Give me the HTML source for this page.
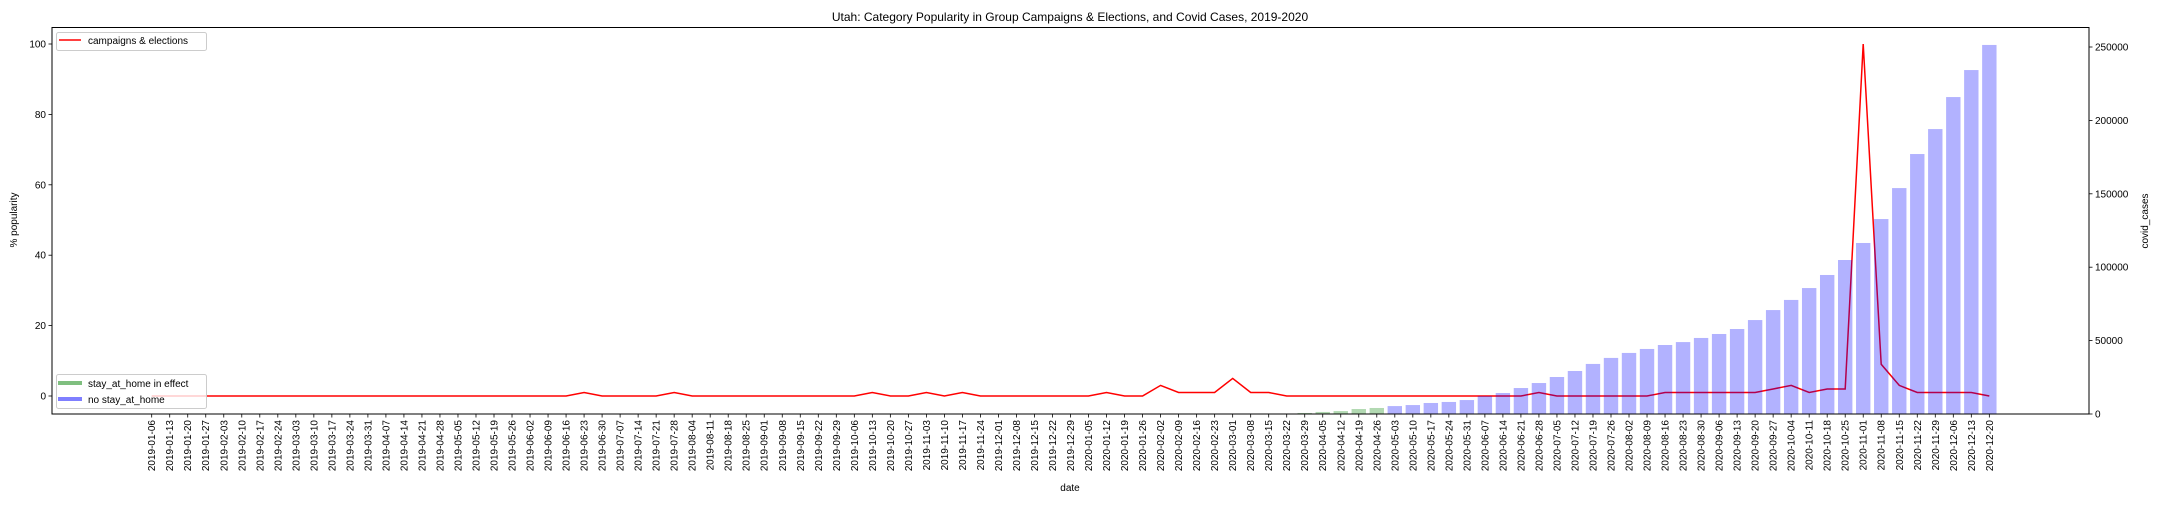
<!DOCTYPE html>
<html><head><meta charset="utf-8"><style>
body{margin:0;background:#fff}
svg text{font-family:"Liberation Sans","DejaVu Sans",sans-serif;fill:#000}
</style></head><body>
<svg id="chart" width="2160" height="504" xmlns="http://www.w3.org/2000/svg"></svg>
<script>
const startDate = "2019-01-06";
const nWeeks = 103;
const popularity = [0,0,0,0,0,0,0,0,0,0,0,0,0,0,0,0,0,0,0,0,0,0,0,0,1,0,0,0,0,1,0,0,0,0,0,0,0,0,0,0,1,0,0,1,0,1,0,0,0,0,0,0,0,1,0,0,3,1,1,1,5,1,1,0,0,0,0,0,0,0,0,0,0,0,0,0,0,1,0,0,0,0,0,0,1,1,1,1,1,1,2,3,1,2,2,100,9,3,1,1,1,1,0];
const casesStartIndex = 64;
const covidCases = [700,1400,2000,3400,4100,5400,6100,7500,8200,9500,12300,14300,17700,21100,25200,29300,34100,38200,41600,44300,47000,49000,51800,54500,57900,64000,70800,77700,85800,94700,104900,116500,132800,153900,177100,194100,215900,234300,251400];
const stayAtHome = [1,1,1,1,1,0,0,0,0,0,0,0,0,0,0,0,0,0,0,0,0,0,0,0,0,0,0,0,0,0,0,0,0,0,0,0,0,0,0];
const leftTicks = [0,20,40,60,80,100];
const rightTicks = [0,50000,100000,150000,200000,250000];

const NS="http://www.w3.org/2000/svg";
const svg=document.getElementById('chart');
function mk(tag,attrs,parent){const e=document.createElementNS(NS,tag);for(const k in attrs)e.setAttribute(k,attrs[k]);(parent||svg).appendChild(e);return e;}
const L=52,R=2089,T=27.5,B=414;
const xPos=i=>151.7+i*18.016;
const yL=v=>396-v*3.52;
const yR=v=>B-v*367/250000;
function dateLabel(i){const d=new Date(startDate+"T00:00:00Z");d.setUTCDate(d.getUTCDate()+7*i);return d.toISOString().slice(0,10);}

// title
let t=mk('text',{x:1070,y:21,'text-anchor':'middle','font-size':12});
t.textContent="Utah: Category Popularity in Group Campaigns & Elections, and Covid Cases, 2019-2020";



// line
const pts=popularity.map((v,i)=>xPos(i).toFixed(1)+","+yL(v).toFixed(1)).join(" ");
const line=mk('polyline',{points:pts,fill:'none',stroke:'#ff0000','stroke-width':1.5});



// bars
covidCases.forEach((v,k)=>{
  const i=casesStartIndex+k;
  const r=mk('rect',{x:xPos(i)-7.2,y:yR(v),width:14.4,height:B-yR(v),fill:stayAtHome[k]?'#008000':'#0000ff','fill-opacity':0.3});
  
  
});

// axes frame
const frame=mk('rect',{x:L,y:T,width:R-L,height:B-T,fill:'none',stroke:'#000','stroke-width':1});



// x ticks
for(let i=0;i<nWeeks;i++){
  const x=xPos(i);
  mk('line',{x1:x,y1:B,x2:x,y2:B+3.5,stroke:'#000','stroke-width':0.8});
  const lb=mk('text',{x:0,y:0,'font-size':10,'text-anchor':'end',transform:`translate(${x+3.5},${B+6}) rotate(-90)`});
  lb.textContent=dateLabel(i);
  
  
}
// left ticks
leftTicks.forEach(v=>{
  const y=yL(v);
  mk('line',{x1:L-3.5,y1:y,x2:L,y2:y,stroke:'#000','stroke-width':0.8});
  const lb=mk('text',{x:L-6,y:y+3.5,'font-size':10,'text-anchor':'end'});
  lb.textContent=v;
  
  
});
// right ticks
rightTicks.forEach(v=>{
  const y=yR(v);
  mk('line',{x1:R,y1:y,x2:R+3.5,y2:y,stroke:'#000','stroke-width':0.8});
  const lb=mk('text',{x:R+6,y:y+3.5,'font-size':10,'text-anchor':'start'});
  lb.textContent=v;
  
  
});
// axis titles
let a=mk('text',{x:1070,y:491,'font-size':10,'text-anchor':'middle'});a.textContent='date';


a=mk('text',{x:0,y:0,'font-size':10,'text-anchor':'middle',transform:'translate(17,220) rotate(-90)'});a.textContent='% popularity';


a=mk('text',{x:0,y:0,'font-size':10,'text-anchor':'middle',transform:'translate(2148,221) rotate(-90)'});a.textContent='covid_cases';



// legends
let g=mk('g',{});


mk('rect',{x:56.5,y:32.5,width:150,height:18,rx:2,fill:'#fff','fill-opacity':0.8,stroke:'#ccc'},g);
mk('line',{x1:59,y1:40,x2:81,y2:40,stroke:'#ff0000','stroke-width':1.5},g);
let lt=mk('text',{x:88,y:44,'font-size':10},g);lt.textContent='campaigns & elections';

g=mk('g',{});


mk('rect',{x:56.5,y:374.5,width:150,height:34,rx:2,fill:'#fff','fill-opacity':0.8,stroke:'#ccc'},g);
mk('line',{x1:58,y1:383,x2:82,y2:383,stroke:'#008000','stroke-opacity':0.5,'stroke-width':4},g);
lt=mk('text',{x:88,y:387,'font-size':10},g);lt.textContent='stay_at_home in effect';
mk('line',{x1:58,y1:399,x2:82,y2:399,stroke:'#0000ff','stroke-opacity':0.5,'stroke-width':4},g);
lt=mk('text',{x:88,y:403,'font-size':10},g);lt.textContent='no stay_at_home';
</script>
</body></html>
